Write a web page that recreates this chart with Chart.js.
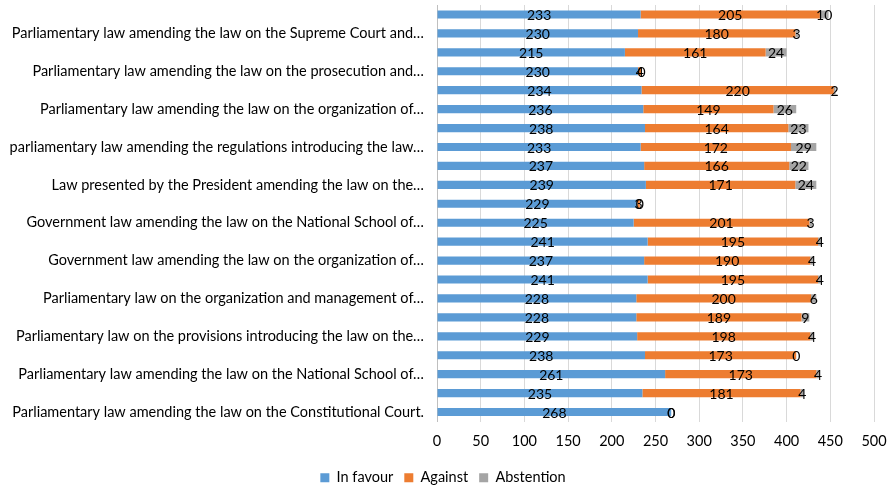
<!DOCTYPE html>
<html>
<head>
<meta charset="utf-8">
<script src="https://cdn.jsdelivr.net/npm/chart.js@4.4.0/dist/chart.umd.min.js"></script>
<style>
  html, body { margin: 0; padding: 0; background: #fff; overflow: hidden; }
  canvas { display: block; }
</style>
</head>
<body>
<canvas id="voteChart" width="888" height="487"></canvas>
<script>
// Kategorie od góry do dołu (co druga etykieta jest ukryta, jak w oryginale)
const categories = [
    '',
    'Parliamentary law amending the law on the Supreme Court and…',
    '',
    'Parliamentary law amending the law on the prosecution and…',
    '',
    'Parliamentary law amending the law on the organization of…',
    '',
    'parliamentary law amending the regulations introducing the law…',
    '',
    'Law presented by the President amending the law on the…',
    '',
    'Government law amending the law on the National School of…',
    '',
    'Government law amending the law on the organization of…',
    '',
    'Parliamentary law on the organization and management of…',
    '',
    'Parliamentary law on the provisions introducing the law on the…',
    '',
    'Parliamentary law amending the law on the National School of…',
    '',
    'Parliamentary law amending the law on the Constitutional Court.'
];

const inFavour   = [233, 230, 215, 230, 234, 236, 238, 233, 237, 239, 229, 225, 241, 237, 241, 228, 228, 229, 238, 261, 235, 268];
const against    = [205, 180, 161, 4, 220, 149, 164, 172, 166, 171, 3, 201, 195, 190, 195, 200, 189, 198, 173, 173, 181, 0];
const abstention = [10, 3, 24, 0, 2, 26, 23, 29, 22, 24, 0, 3, 4, 4, 4, 6, 9, 4, 0, 4, 4, 0];

const xTicks = [0, 50, 100, 150, 200, 250, 300, 350, 400, 450, 500];

const FONT = 'Lato';

// Etykiety wartości na środku każdego segmentu
const valueLabels = {
    id: 'valueLabels',
    afterDatasetsDraw(chart) {
        const ctx = chart.ctx;
        ctx.save();
        ctx.fillStyle = '#000';
        ctx.font = '14px ' + FONT;
        ctx.textAlign = 'center';
        ctx.textBaseline = 'middle';
        chart.data.datasets.forEach((ds, i) => {
            const meta = chart.getDatasetMeta(i);
            meta.data.forEach((bar, j) => {
                const cx = (bar.x + bar.base) / 2;
                ctx.fillText(String(ds.data[j]), cx, bar.y + 1);
            });
        });
        ctx.restore();
    }
};

const ctx = document.getElementById('voteChart').getContext('2d');
new Chart(ctx, {
    type: 'bar',
    data: {
        labels: categories,
        datasets: [
            { label: 'In favour', data: inFavour, backgroundColor: '#5B9BD5' },
            { label: 'Against', data: against, backgroundColor: '#ED7D31' },
            { label: 'Abstention', data: abstention, backgroundColor: '#A5A5A5' }
        ]
    },
    options: {
        indexAxis: 'y',
        responsive: false,
        animation: false,
        layout: { padding: { top: 5, right: 2, left: 0, bottom: -8 } },
        datasets: {
            bar: { categoryPercentage: 1, barPercentage: 0.43, borderWidth: 0 }
        },
        scales: {
            x: {
                stacked: true,
                min: 0,
                max: 500,
                afterBuildTicks: s => { s.ticks = xTicks.map(v => ({ value: v })); },
                afterFit: s => { s.height = 38; s.paddingRight = 14; s.paddingLeft = 0; },
                grid: { color: '#D9D9D9', drawTicks: false },
                border: { display: false },
                ticks: { color: '#000', font: { family: FONT, size: 14.5 }, padding: 11 }
            },
            y: {
                stacked: true,
                afterFit: s => { s.width = 437; s.paddingTop = 0; s.paddingBottom = 0; },
                grid: { display: false },
                border: { color: '#BFBFBF' },
                ticks: {
                    autoSkip: false,
                    color: '#000',
                    padding: 5,
                    font: { family: FONT, size: 14.5 }
                }
            }
        },
        plugins: {
            legend: {
                position: 'bottom',
                labels: {
                    boxWidth: 9,
                    boxHeight: 9,
                    padding: 11,
                    color: '#000',
                    font: { family: FONT, size: 14.5 }
                }
            },
            tooltip: { enabled: false }
        }
    },
    plugins: [valueLabels]
});
</script>
</body>
</html>
